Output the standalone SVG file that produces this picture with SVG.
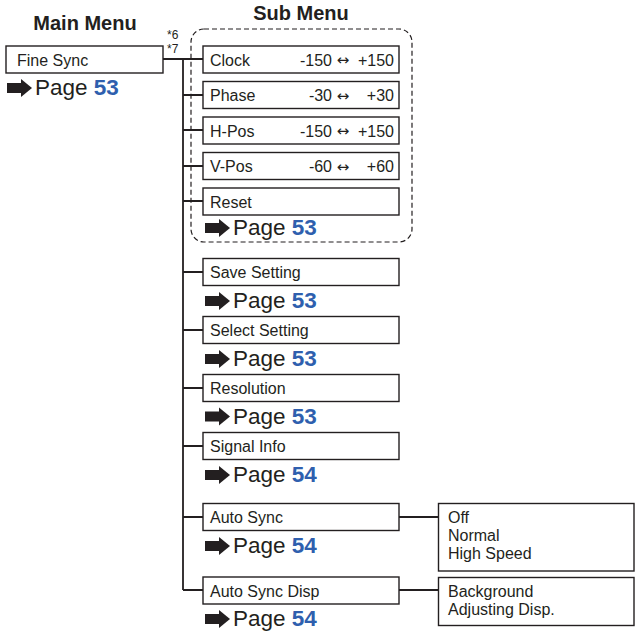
<svg xmlns="http://www.w3.org/2000/svg" width="635" height="634" viewBox="0 0 635 634">
<style>
text{font-family:"Liberation Sans",Arial,sans-serif;fill:#231f20}
.h{font-size:20px;font-weight:bold;text-anchor:middle}
.t{font-size:16px}
.n{font-size:16px;text-anchor:end}
.a{font-size:15px;text-anchor:middle;font-family:"DejaVu Sans",sans-serif}
.pg{font-size:22.5px}
.num{font-weight:bold;fill:#2f5fae}
.s{font-size:12px}
.box{fill:#fff;stroke:#231f20;stroke-width:1.4}
.ln{fill:none;stroke:#231f20;stroke-width:1.8}
.dash{fill:none;stroke:#231f20;stroke-width:1.2;stroke-dasharray:5 3}
</style>
<defs>
<g id="arr"><rect x="0" y="-5" width="14" height="10" fill="#231f20"/><polygon points="14,-9 25,0 14,9" fill="#231f20"/></g>
</defs>
<text class="h" x="85" y="30">Main Menu</text>
<text class="h" x="301" y="20">Sub Menu</text>
<rect class="dash" x="191" y="29" width="221" height="213" rx="13"/>
<g id="connectors">
<path class="ln" d="M163,59H183M183,59V590M183,59H203M183,95H203M183,130H203M183,166H203M183,201H203M183,272H203M183,330H203M183,388H203M183,446H203M183,517H203M183,590H203M399,517H438M399,590H438"/>
</g>
<g id="fine-sync"><rect class="box" x="6" y="46" width="157" height="27"/><text class="t" x="17" y="65.5">Fine Sync</text>
<use href="#arr" x="7" y="88"/><text class="pg" x="35" y="95">Page <tspan class="num">53</tspan></text>
<text class="s" x="167" y="39">*6</text><text class="s" x="167" y="53">*7</text></g>
<g id="clock"><rect class="box" x="203" y="46" width="196" height="27"/><text class="t" x="210" y="65.5">Clock</text><text class="n" x="332" y="65.5">-150</text><text class="a" x="343" y="65">↔</text><text class="n" x="394" y="65.5">+150</text></g>
<g id="phase"><rect class="box" x="203" y="81.5" width="196" height="27"/><text class="t" x="210" y="101">Phase</text><text class="n" x="332" y="101">-30</text><text class="a" x="343" y="100.5">↔</text><text class="n" x="394" y="101">+30</text></g>
<g id="h-pos"><rect class="box" x="203" y="117" width="196" height="27"/><text class="t" x="210" y="136.5">H-Pos</text><text class="n" x="332" y="136.5">-150</text><text class="a" x="343" y="136">↔</text><text class="n" x="394" y="136.5">+150</text></g>
<g id="v-pos"><rect class="box" x="203" y="152.5" width="196" height="27"/><text class="t" x="210" y="172">V-Pos</text><text class="n" x="332" y="172">-60</text><text class="a" x="343" y="171.5">↔</text><text class="n" x="394" y="172">+60</text></g>
<g id="reset"><rect class="box" x="203" y="188" width="196" height="27"/><text class="t" x="210" y="207.5">Reset</text>
<use href="#arr" x="205" y="228"/><text class="pg" x="233" y="235">Page <tspan class="num">53</tspan></text></g>
<g id="save-setting"><rect class="box" x="203" y="258.5" width="196" height="27"/><text class="t" x="210" y="278">Save Setting</text>
<use href="#arr" x="205" y="301"/><text class="pg" x="233" y="308">Page <tspan class="num">53</tspan></text></g>
<g id="select-setting"><rect class="box" x="203" y="316.5" width="196" height="27"/><text class="t" x="210" y="336">Select Setting</text>
<use href="#arr" x="205" y="359"/><text class="pg" x="233" y="366">Page <tspan class="num">53</tspan></text></g>
<g id="resolution"><rect class="box" x="203" y="374.5" width="196" height="27"/><text class="t" x="210" y="394">Resolution</text>
<use href="#arr" x="205" y="416.5"/><text class="pg" x="233" y="423.5">Page <tspan class="num">53</tspan></text></g>
<g id="signal-info"><rect class="box" x="203" y="432.5" width="196" height="27"/><text class="t" x="210" y="452">Signal Info</text>
<use href="#arr" x="205" y="475"/><text class="pg" x="233" y="482">Page <tspan class="num">54</tspan></text></g>
<g id="auto-sync"><rect class="box" x="203" y="503.5" width="196" height="27"/><text class="t" x="210" y="523">Auto Sync</text>
<use href="#arr" x="205" y="546"/><text class="pg" x="233" y="553">Page <tspan class="num">54</tspan></text></g>
<g id="auto-sync-disp"><rect class="box" x="203" y="577" width="196" height="27"/><text class="t" x="210" y="596.5">Auto Sync Disp</text>
<use href="#arr" x="205" y="619"/><text class="pg" x="233" y="626">Page <tspan class="num">54</tspan></text></g>
<g id="auto-sync-options"><rect class="box" x="438.5" y="503.5" width="195.5" height="67.5"/><text class="t" x="448" y="522.5">Off</text><text class="t" x="448" y="540.5">Normal</text><text class="t" x="448" y="558.5">High Speed</text></g>
<g id="auto-sync-disp-options"><rect class="box" x="438.5" y="577.5" width="195.5" height="48"/><text class="t" x="448" y="596.5">Background</text><text class="t" x="448" y="614.5">Adjusting Disp.</text></g>
</svg>
